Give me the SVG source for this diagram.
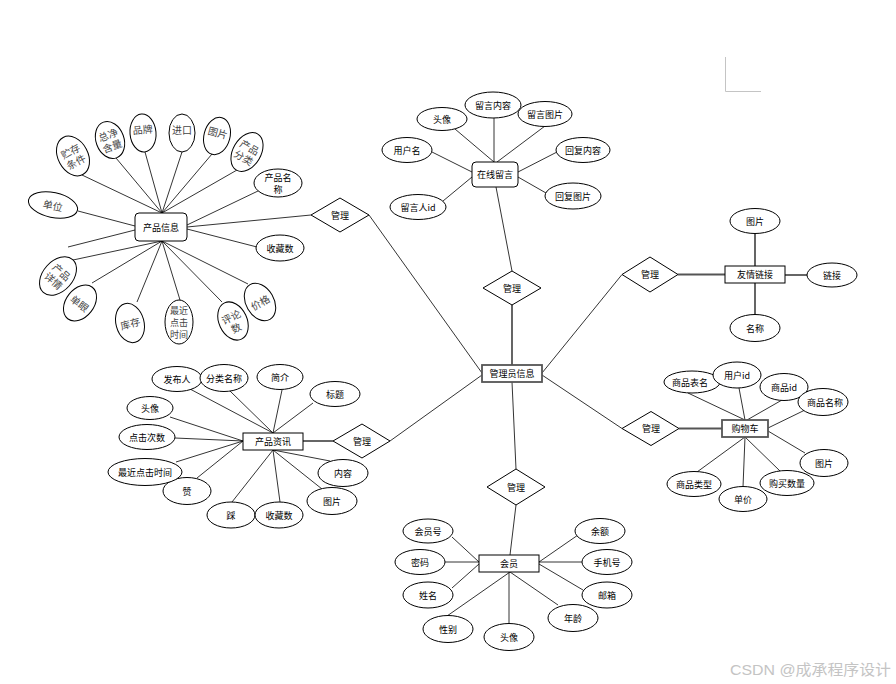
<svg xmlns="http://www.w3.org/2000/svg" width="896" height="684" viewBox="0 0 896 684">
<style>
.e{fill:#fff;stroke:#000;stroke-width:1}
.r{fill:#fff;stroke:#000;stroke-width:1}
.rt{fill:#fff;stroke:#555;stroke-width:1.8}
.t{font-family:"Noto Sans CJK SC","Noto Sans",sans-serif;font-size:9px;text-anchor:middle;dominant-baseline:central;fill:#000}
.s{font-family:"Noto Sans CJK SC","Noto Sans",sans-serif;font-size:10px;text-anchor:middle;dominant-baseline:central;fill:#444}
.s9{font-size:9px}
.ln line{stroke:#000;stroke-width:0.8}
.ln .k{stroke:#555;stroke-width:1.8}
</style>
<rect width="896" height="684" fill="#fff"/>
<path d="M725.5 57 V91.5 H761" fill="none" stroke="#c4c4c4" stroke-width="1"/>
<g id="connectors" class="ln">
<line x1="187" y1="227" x2="311" y2="215"/>
<line x1="369" y1="215" x2="482" y2="373"/>
<line x1="496" y1="187" x2="512" y2="271"/>
<line class="k" x1="512" y1="305" x2="512" y2="365"/>
<line x1="542" y1="373" x2="622" y2="274.5"/>
<line class="k" x1="678" y1="274.5" x2="725" y2="274.5"/>
<line x1="542" y1="375" x2="622" y2="428.5"/>
<line class="k" x1="679" y1="428.5" x2="722" y2="428.5"/>
<line x1="482" y1="375" x2="390" y2="441"/>
<line class="k" x1="333" y1="441" x2="303" y2="441"/>
<line x1="512" y1="382" x2="516" y2="469"/>
<line x1="516" y1="505" x2="510" y2="555"/>
<!-- product info -->
<line x1="82" y1="175" x2="162" y2="213"/>
<line x1="116" y1="158" x2="162" y2="213"/>
<line x1="145" y1="152" x2="162" y2="213"/>
<line x1="182" y1="152" x2="162" y2="213"/>
<line x1="212" y1="154" x2="162" y2="213"/>
<line x1="237" y1="170" x2="162" y2="213"/>
<line x1="258" y1="191" x2="187" y2="225"/>
<line x1="78" y1="211" x2="135" y2="226"/>
<line x1="135" y1="230" x2="68" y2="247"/>
<line x1="187" y1="229" x2="257" y2="247"/>
<line x1="73" y1="260" x2="162" y2="241"/>
<line x1="92" y1="283" x2="162" y2="241"/>
<line x1="137" y1="302" x2="162" y2="241"/>
<line x1="180" y1="300" x2="162" y2="241"/>
<line x1="222" y1="302" x2="162" y2="241"/>
<line x1="248" y1="284" x2="162" y2="241"/>
<!-- message -->
<line x1="455" y1="129" x2="494" y2="162"/>
<line x1="494" y1="118" x2="494" y2="162"/>
<line x1="545" y1="126" x2="497" y2="162"/>
<line x1="432" y1="152" x2="472" y2="172"/>
<line x1="443" y1="201" x2="472" y2="177"/>
<line x1="557" y1="152" x2="518" y2="172"/>
<line x1="546" y1="193" x2="518" y2="177"/>
<!-- link -->
<line class="k" x1="755" y1="233.5" x2="755" y2="266"/>
<line class="k" x1="785" y1="275" x2="807" y2="275"/>
<line class="k" x1="755" y1="283" x2="755" y2="314.5"/>
<!-- cart -->
<line x1="688" y1="393" x2="745" y2="420"/>
<line x1="739" y1="388" x2="745" y2="420"/>
<line x1="782" y1="400" x2="747" y2="420"/>
<line x1="805" y1="410" x2="768" y2="428"/>
<line x1="805" y1="453" x2="768" y2="431"/>
<line x1="780" y1="471" x2="745" y2="437"/>
<line x1="743" y1="487" x2="745" y2="437"/>
<line x1="697" y1="472" x2="745" y2="437"/>
<!-- news -->
<line x1="190" y1="389" x2="273" y2="433"/>
<line x1="230" y1="391" x2="273" y2="433"/>
<line x1="282" y1="390" x2="273" y2="433"/>
<line x1="313" y1="403" x2="273" y2="433"/>
<line x1="170" y1="417" x2="243" y2="441"/>
<line x1="175" y1="438" x2="243" y2="441"/>
<line x1="176" y1="462" x2="243" y2="441"/>
<line x1="197" y1="478" x2="243" y2="441"/>
<line x1="232" y1="502" x2="273" y2="450"/>
<line x1="280" y1="502" x2="273" y2="450"/>
<line x1="330" y1="461" x2="273" y2="450"/>
<line x1="322" y1="489" x2="273" y2="450"/>
<!-- member -->
<line x1="452" y1="537" x2="479" y2="562"/>
<line x1="445" y1="562" x2="479" y2="562"/>
<line x1="452" y1="588" x2="479" y2="564"/>
<line x1="447" y1="616" x2="510" y2="572"/>
<line x1="509" y1="623" x2="509" y2="572"/>
<line x1="558" y1="605" x2="510" y2="572"/>
<line x1="583" y1="590" x2="539" y2="564"/>
<line x1="582" y1="562" x2="539" y2="562"/>
<line x1="578" y1="535" x2="539" y2="562"/>
</g>

<!-- entities -->
<g id="product-info"><rect class="r" x="135" y="213" width="52" height="28" rx="4"/><text class="t" x="161" y="227">产品信息</text></g>
<g id="online-message"><rect class="r" x="472" y="162" width="46" height="25" rx="4"/><text class="t" x="495" y="174.5">在线留言</text></g>
<g id="admin"><rect class="rt" x="482" y="365" width="60" height="17"/><text class="t" x="512" y="373.5">管理员信息</text></g>
<g id="friend-link"><rect class="r" x="725" y="266" width="60" height="17"/><text class="t" x="755" y="274.5">友情链接</text></g>
<g id="cart"><rect class="rt" x="722" y="420" width="46" height="17"/><text class="t" x="745" y="428.5">购物车</text></g>
<g id="product-news"><rect class="r" x="243" y="433" width="60" height="17"/><text class="t" x="273" y="441.5">产品资讯</text></g>
<g id="member"><rect class="r" x="479" y="555" width="60" height="17"/><text class="t" x="509" y="563.5">会员</text></g>

<!-- relations -->
<g id="rel-product-info"><polygon class="e" points="311,215 340,198 369,215 340,232"/><text class="t" x="340" y="215">管理</text></g>
<g id="rel-message"><polygon class="e" points="483,288 512,271 541,288 512,305"/><text class="t" x="512" y="288">管理</text></g>
<g id="rel-link"><polygon class="e" points="622,274.5 650,257 678,274.5 650,292"/><text class="t" x="650" y="274.5">管理</text></g>
<g id="rel-cart"><polygon class="e" points="622,428.5 651,411.5 679,428.5 651,445.5"/><text class="t" x="651" y="428.5">管理</text></g>
<g id="rel-news"><polygon class="e" points="333,441 362,424 390,441 362,458"/><text class="t" x="362" y="441">管理</text></g>
<g id="rel-member"><polygon class="e" points="487,487 516,469 545,487 516,505"/><text class="t" x="516" y="487">管理</text></g>

<!-- product info attributes -->
<g id="pi-storage" transform="translate(73,156) rotate(-28)"><ellipse class="e" rx="15" ry="21"/><text class="s" y="-6">贮存</text><text class="s" y="6">条件</text></g>
<g id="pi-weight" transform="translate(110,140) rotate(-20)"><ellipse class="e" rx="14" ry="19"/><text class="s" y="-6">总净</text><text class="s" y="6">含量</text></g>
<g id="pi-brand" transform="translate(143,133) rotate(-5)"><ellipse class="e" rx="13" ry="19"/><text class="s" y="-4">品牌</text></g>
<g id="pi-import" transform="translate(182,133)"><ellipse class="e" rx="13" ry="19"/><text class="s" y="-4">进口</text></g>
<g id="pi-image" transform="translate(217,136) rotate(15)"><ellipse class="e" rx="13" ry="19"/><text class="s" y="-4">图片</text></g>
<g id="pi-category" transform="translate(247,152) rotate(30)"><ellipse class="e" rx="14" ry="21"/><text class="s" y="-6">产品</text><text class="s" y="6">分类</text></g>
<g id="pi-name"><ellipse class="e" cx="278" cy="183" rx="24" ry="14"/><text class="t" x="278" y="177">产品名</text><text class="t" x="278" y="189">称</text></g>
<g id="pi-unit" transform="translate(53,205) rotate(12)"><ellipse class="e" rx="25" ry="12.5"/><text class="s">单位</text></g>
<g id="pi-fav"><ellipse class="e" cx="280" cy="248" rx="24" ry="13"/><text class="t" x="280" y="248">收藏数</text></g>
<g id="pi-detail" transform="translate(58,276) rotate(42)"><ellipse class="e" rx="15" ry="22"/><text class="s" y="-6">产品</text><text class="s" y="6">详情</text></g>
<g id="pi-eye" transform="translate(80,303) rotate(38)"><ellipse class="e" rx="14" ry="20"/><text class="s">单眼</text></g>
<g id="pi-stock" transform="translate(130,323) rotate(-15)"><ellipse class="e" rx="14" ry="20"/><text class="s">库存</text></g>
<g id="pi-lasttime"><ellipse class="e" cx="179" cy="322" rx="14" ry="22"/><text class="s s9" x="179" y="310">最近</text><text class="s s9" x="179" y="322">点击</text><text class="s s9" x="179" y="334">时间</text></g>
<g id="pi-comments" transform="translate(233,321) rotate(-25)"><ellipse class="e" rx="14" ry="20"/><text class="s" y="-5">评论</text><text class="s" y="7">数</text></g>
<g id="pi-price" transform="translate(260,302) rotate(-30)"><ellipse class="e" rx="14" ry="20"/><text class="s">价格</text></g>

<!-- online message attributes -->
<g id="m-avatar"><ellipse class="e" cx="442" cy="119" rx="25" ry="11.5"/><text class="t" x="442" y="119">头像</text></g>
<g id="m-content"><ellipse class="e" cx="493" cy="105" rx="28" ry="13"/><text class="t" x="493" y="105">留言内容</text></g>
<g id="m-image"><ellipse class="e" cx="545" cy="114" rx="27" ry="12.5"/><text class="t" x="545" y="114">留言图片</text></g>
<g id="m-user"><ellipse class="e" cx="407" cy="150" rx="25" ry="12.5"/><text class="t" x="407" y="150">用户名</text></g>
<g id="m-uid"><ellipse class="e" cx="418" cy="207" rx="28" ry="12.5"/><text class="t" x="418" y="207">留言人id</text></g>
<g id="m-reply"><ellipse class="e" cx="583" cy="150" rx="27" ry="12.5"/><text class="t" x="583" y="150">回复内容</text></g>
<g id="m-replyimg"><ellipse class="e" cx="573" cy="196" rx="28" ry="13"/><text class="t" x="573" y="196">回复图片</text></g>

<!-- friend link attributes -->
<g id="l-image"><ellipse class="e" cx="755" cy="221" rx="25" ry="12.5"/><text class="t" x="755" y="221">图片</text></g>
<g id="l-url"><ellipse class="e" cx="832" cy="275" rx="25" ry="12"/><text class="t" x="832" y="275">链接</text></g>
<g id="l-name"><ellipse class="e" cx="755" cy="328" rx="25" ry="13.5"/><text class="t" x="755" y="328">名称</text></g>

<!-- cart attributes -->
<g id="c-table"><ellipse class="e" cx="692" cy="382" rx="28" ry="11"/><text class="t" x="690" y="382">商品表名</text></g>
<g id="c-uid"><ellipse class="e" cx="737" cy="375" rx="24" ry="13"/><text class="t" x="737" y="375">用户id</text></g>
<g id="c-gid"><ellipse class="e" cx="784" cy="387" rx="24" ry="13.5"/><text class="t" x="784" y="387">商品id</text></g>
<g id="c-gname"><ellipse class="e" cx="823" cy="402" rx="25" ry="13.5"/><text class="t" x="825" y="402">商品名称</text></g>
<g id="c-image"><ellipse class="e" cx="824" cy="463" rx="24" ry="13.5"/><text class="t" x="824" y="463">图片</text></g>
<g id="c-type"><ellipse class="e" cx="694" cy="484" rx="27" ry="12.5"/><text class="t" x="694" y="484">商品类型</text></g>
<g id="c-price"><ellipse class="e" cx="743" cy="499" rx="24" ry="12.5"/><text class="t" x="743" y="499">单价</text></g>
<g id="c-qty"><ellipse class="e" cx="787" cy="483" rx="27" ry="12.5"/><text class="t" x="787" y="483">购买数量</text></g>

<!-- product news attributes -->
<g id="n-publisher"><ellipse class="e" cx="177" cy="379" rx="25" ry="12.5"/><text class="t" x="177" y="379">发布人</text></g>
<g id="n-category"><ellipse class="e" cx="224" cy="378" rx="24" ry="13.5"/><text class="t" x="224" y="378">分类名称</text></g>
<g id="n-intro"><ellipse class="e" cx="280" cy="377" rx="23" ry="12.5"/><text class="t" x="280" y="377">简介</text></g>
<g id="n-title"><ellipse class="e" cx="335" cy="394" rx="25" ry="12.5"/><text class="t" x="335" y="394">标题</text></g>
<g id="n-avatar"><ellipse class="e" cx="150" cy="408" rx="23" ry="11.5"/><text class="t" x="150" y="408">头像</text></g>
<g id="n-clicks"><ellipse class="e" cx="147" cy="437" rx="28" ry="12.5"/><text class="t" x="147" y="437">点击次数</text></g>
<g id="n-like"><ellipse class="e" cx="187" cy="491" rx="24" ry="13.5"/><text class="t" x="187" y="491">赞</text></g>
<g id="n-lasttime"><ellipse class="e" cx="145" cy="472" rx="37" ry="13.5"/><text class="t" x="145" y="472">最近点击时间</text></g>
<g id="n-dislike"><ellipse class="e" cx="231" cy="515" rx="24" ry="13"/><text class="t" x="231" y="515">踩</text></g>
<g id="n-fav"><ellipse class="e" cx="279" cy="515" rx="24" ry="13"/><text class="t" x="279" y="515">收藏数</text></g>
<g id="n-content"><ellipse class="e" cx="343" cy="473" rx="25" ry="13.5"/><text class="t" x="343" y="473">内容</text></g>
<g id="n-image"><ellipse class="e" cx="332" cy="501" rx="25" ry="13.5"/><text class="t" x="332" y="501">图片</text></g>

<!-- member attributes -->
<g id="u-no"><ellipse class="e" cx="428" cy="531" rx="25" ry="12"/><text class="t" x="428" y="531">会员号</text></g>
<g id="u-pwd"><ellipse class="e" cx="420" cy="562" rx="25" ry="12.5"/><text class="t" x="420" y="562">密码</text></g>
<g id="u-name"><ellipse class="e" cx="428" cy="595" rx="25" ry="13"/><text class="t" x="428" y="595">姓名</text></g>
<g id="u-sex"><ellipse class="e" cx="448" cy="629" rx="25" ry="13.5"/><text class="t" x="448" y="629">性别</text></g>
<g id="u-avatar"><ellipse class="e" cx="509" cy="637" rx="25" ry="13.5"/><text class="t" x="509" y="637">头像</text></g>
<g id="u-age"><ellipse class="e" cx="573" cy="618" rx="25" ry="13.5"/><text class="t" x="573" y="618">年龄</text></g>
<g id="u-mail"><ellipse class="e" cx="607" cy="595" rx="25" ry="13"/><text class="t" x="607" y="595">邮箱</text></g>
<g id="u-phone"><ellipse class="e" cx="607" cy="562" rx="25" ry="12.5"/><text class="t" x="607" y="562">手机号</text></g>
<g id="u-balance"><ellipse class="e" cx="600" cy="531" rx="25" ry="12.5"/><text class="t" x="600" y="531">余额</text></g>

<text x="730" y="675" font-family="'Liberation Sans','Noto Sans CJK SC',sans-serif" font-size="15" fill="#c4c4c4" textLength="161" lengthAdjust="spacingAndGlyphs">CSDN @成承程序设计</text>
</svg>
